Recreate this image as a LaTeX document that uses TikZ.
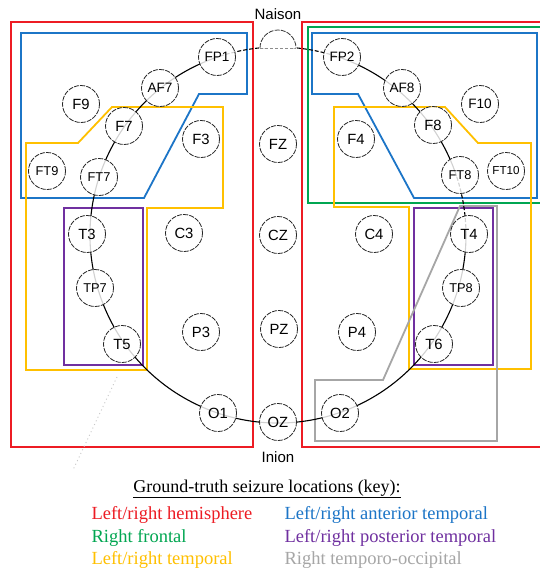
\documentclass[tikz,border=0pt]{standalone}
\usepackage{fontspec}
\setmainfont{Liberation Serif}
\setsansfont{Liberation Sans}
\definecolor{zred}{RGB}{237,28,36}
\definecolor{zblue}{RGB}{28,117,199}
\definecolor{zgreen}{RGB}{0,166,81}
\definecolor{zyellow}{RGB}{255,192,0}
\definecolor{zpurple}{RGB}{112,48,160}
\definecolor{zgray}{RGB}{166,166,166}
\begin{document}
\begin{tikzpicture}[x=1pt,y=-1pt,
  electrode/.style={circle, draw=black!85, line width=0.8pt,
    dash pattern=on 5pt off 1.2pt, minimum size=37pt, inner sep=0pt,
    fill=white, fill opacity=0.82, text opacity=1,
    font=\sffamily\fontsize{14.8}{15}\selectfont},
  wide/.style={font=\sffamily\fontsize{13.6}{14}\selectfont},
  narrow/.style={font=\sffamily\fontsize{12.8}{13}\selectfont},
  tiny/.style={font=\sffamily\fontsize{11.6}{12}\selectfont},
  region/.style={line width=1.8pt, line join=miter},
  headline/.style={line width=1.1pt, black},
  headdash/.style={line width=1.1pt, black, dash pattern=on 4pt off 2pt},
  landmark/.style={font=\sffamily\fontsize{15}{16}\selectfont},
  keytext/.style={anchor=base west, font=\fontsize{18.5}{20}\selectfont}]
\useasboundingbox (0,0) rectangle (539,573);
\fill[white] (0,0) rectangle (539,573);

% ---- seizure regions ----
\draw[region, zred] (11,22) rectangle (253,447);
\draw[region, zred] (302,22) rectangle (548,447);
\draw[region, zgreen] (308,27) rectangle (548,203);
\draw[region, zblue] (21,33) -- (247,33) -- (247,94) -- (199,94) -- (144,198) -- (21,198) -- cycle;
\draw[region, zblue] (312,33) -- (537,33) -- (537,198) -- (414,198) -- (358,94) -- (312,94) -- cycle;
\draw[region, zyellow] (26,143) -- (78,143) -- (112,107) -- (223,107) -- (223,208) -- (147,208) -- (147,370) -- (26,370) -- cycle;
\draw[region, zyellow] (334,107) -- (445,107) -- (478,143) -- (531,143) -- (531,369) -- (409,369) -- (409,207) -- (334,207) -- cycle;
\draw[region, zpurple] (64,208) rectangle (143,365);
\draw[region, zpurple] (414,208) rectangle (493,365);
\draw[region, zgray] (460,206) -- (497,206) -- (497,441) -- (315,441) -- (315,380) -- (383,380) -- cycle;

% faint dotted trace
\coordinate (tr1) at (117,377);
\coordinate (tr2) at (73,470);
\draw[black!22, line width=0.9pt, dash pattern=on 1pt off 3pt] (tr1) -- (tr2);

% ---- head outline ----
\coordinate (head) at (278,235);
\draw[headline] (head) ++(251.1:188) arc[start angle=251.1, end angle=-0.3, radius=188];
\draw[headdash] (head) ++(-0.3:188) arc[start angle=-0.3, end angle=-18.2, radius=188];
\draw[headline] (head) ++(-18.2:188) arc[start angle=-18.2, end angle=-70.2, radius=188];
\draw[headdash] (head) ++(-70.2:188) arc[start angle=-70.2, end angle=-108.9, radius=188];

% nasion bump
\draw[black!80, line width=0.8pt, dash pattern=on 5pt off 1.2pt, fill=white]
  (260,48) arc[start angle=180, end angle=360, radius=18];
\draw[black!45, line width=0.8pt, dash pattern=on 3pt off 2pt] (260,48) -- (296,48);
\node[landmark] (naison) at (278,14) {Naison};
\node[landmark] (inion) at (278,457) {Inion};

% ---- electrodes ----
\foreach \n/\x/\y in {F9/81/104, F7/124/126, F3/201/139,
    T3/87/234, C3/184/233, T5/122/344, P3/201/332, O1/218/413,
    F8/433/125, F4/356/139,
    T4/469/234, C4/374/234, T6/434/344, P4/357/332, O2/340/413,
    FZ/278/144, CZ/278/235, PZ/279/329, OZ/278/422}
  \node[electrode] (\n) at (\x,\y) {\n};
\foreach \n/\x/\y in {FP1/217/57, AF7/160/88, FP2/342/57, AF8/402/88, F10/480/104}
  \node[electrode, wide] (\n) at (\x,\y) {\n};
\foreach \n/\x/\y in {FT9/47/171, FT7/99/177, FT8/460/175, TP7/95/288, TP8/461/288}
  \node[electrode, narrow] (\n) at (\x,\y) {\n};
\node[electrode, tiny] (FT10) at (506,171) {FT10};

% ---- key ----
\node[anchor=base, font=\fontsize{18}{20}\selectfont] (keytitle) at (267,492)
  {\underline{Ground-truth seizure locations (key):}};
\node[keytext, text=zred] (k1) at (88,519) {Left/right hemisphere};
\node[keytext, text=zgreen] (k2) at (88,542) {Right frontal};
\node[keytext, text=zyellow] (k3) at (88,564) {Left/right temporal};
\node[keytext, text=zblue] (k4) at (281,519) {Left/right anterior temporal};
\node[keytext, text=zpurple] (k5) at (281,542) {Left/right posterior temporal};
\node[keytext, text=zgray] (k6) at (281,564) {Right temporo-occipital};
\end{tikzpicture}
\end{document}
